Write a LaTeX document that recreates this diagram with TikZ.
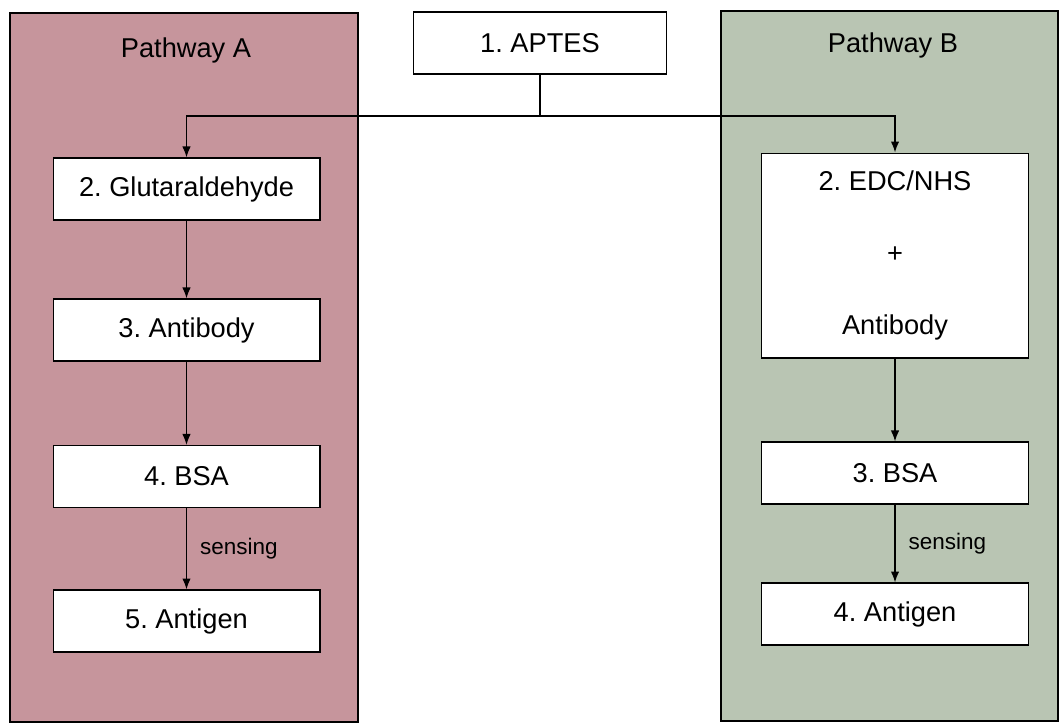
\documentclass[tikz,border=0pt]{standalone}
\usepackage{fontspec}
\setmainfont{Liberation Sans}
\usepackage{xcolor}
\usetikzlibrary{arrows.meta,calc,positioning}
\definecolor{softrose}{HTML}{C6959C}
\definecolor{softsage}{HTML}{B9C5B3}
\frenchspacing

\begin{document}
\begin{tikzpicture}[x=0.02cm,y=-0.02cm,>={Latex[length=2.2mm,width=1.7mm]},font=\fontsize{15.5}{18}\selectfont]
\tikzset{step box/.style={draw,line width=0.6pt,fill=white,minimum width=5.34cm,minimum height=1.24cm,inner sep=0pt},
  link/.style={->,line width=0.9pt},
  panel/.style={draw,line width=0.7pt}}
\useasboundingbox (0,0) rectangle (1060,725);
% the two pathway panels
\draw[panel,fill=softrose] (10,13) rectangle (358,722);
\draw[panel,fill=softsage] (721,11) rectangle (1058,721);
\node (pa) at (186,50) {Pathway A};
\node (pb) at (893,45) {Pathway B};
\node[draw,line width=0.6pt,fill=white,minimum width=5.06cm,minimum height=1.24cm,inner sep=0pt] (aptes) at (540,43) {1. APTES};
% pathway A
\node[step box] (glut) at (186.5,189) {2. Glutaraldehyde};
\node[step box] (abA) at (186.5,330) {3. Antibody};
\node[step box] (bsaA) at (186.5,476.5) {4. BSA};
\node[step box] (agA) at (186.5,621) {5. Antigen};
% pathway B
\node[step box,minimum height=4.1cm,align=center] (edc) at (895,255.5) {2. EDC/NHS\\[0.8cm]+\\[0.8cm]Antibody};
\node[step box] (bsaB) at (895,473) {3. BSA};
\node[step box] (agB) at (895,614) {4. Antigen};
% connectors
\coordinate (split) at (540,116);
\draw[line width=0.9pt] (aptes.south) -- (split);
\draw[link] (split) -| (glut.north);
\draw[link] (split) -| (edc.north);
\draw[link] (glut) -- (abA);
\draw[link] (abA) -- (bsaA);
\draw[link] (bsaA) -- node[right,font=\fontsize{12.8}{15}\selectfont,xshift=4pt] {sensing} (agA);
\draw[link] (edc) -- (bsaB);
\draw[link] (bsaB) -- node[right,font=\fontsize{12.8}{15}\selectfont,xshift=4pt] {sensing} (agB);
\end{tikzpicture}
\end{document}
